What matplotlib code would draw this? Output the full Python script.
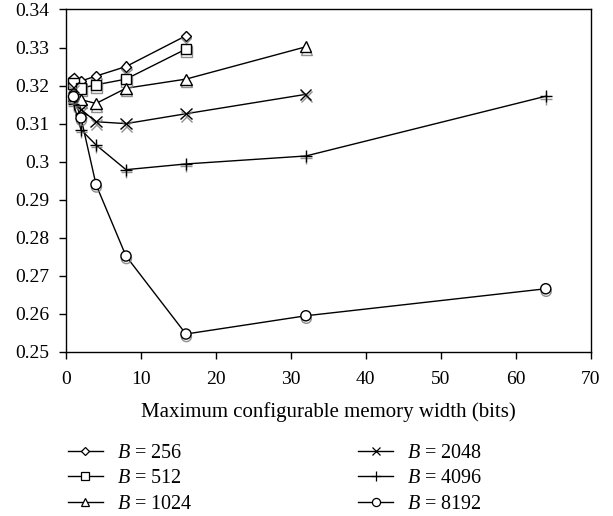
"""
Average cost vs. maximum configurable memory width for several block sizes B.
"""

import matplotlib
matplotlib.use('Agg')
import matplotlib.pyplot as plt
import matplotlib.patheffects as pe
from matplotlib.lines import Line2D
from matplotlib.ticker import FuncFormatter, MultipleLocator

# data
widths = [1, 2, 4, 8, 16, 32, 64]

b256 = [0.3220, 0.3212, 0.3225, 0.3250, 0.3331]
b512 = [0.3205, 0.3193, 0.3202, 0.3217, 0.3296]
b1024 = [0.3175, 0.3163, 0.3153, 0.3193, 0.3217, 0.3302]
b2048 = [0.3194, 0.3137, 0.3105, 0.3100, 0.3126, 0.3177]
b4096 = [0.3152, 0.3084, 0.3044, 0.2979, 0.2994, 0.3015, 0.3172]
b8192 = [0.3171, 0.3115, 0.2940, 0.2752, 0.2547, 0.2595, 0.2666]

labels = ['256', '512', '1024', '2048', '4096', '8192']
series = [b256, b512, b1024, b2048, b4096, b8192]
markers = ['D', 's', '^', 'x', '+', 'o']
sizes = [5.2, 7.6, 8, 8, 8.5, 7.3]

plt.rcParams['font.family'] = 'Liberation Serif'
plt.rcParams['mathtext.fontset'] = 'custom'
plt.rcParams['mathtext.it'] = 'Liberation Serif:italic'
plt.rcParams['mathtext.rm'] = 'Liberation Serif'

fig = plt.figure(figsize=(6.13, 5.16), dpi=100)
ax = fig.add_axes([0.1077, 0.318, 0.856, 0.6636])

shadow = [pe.SimpleLineShadow(offset=(0.3, -1.8), shadow_color='0.45', alpha=0.8),
          pe.Normal()]

handles = []
for vals, mk, ms, lab in zip(series, markers, sizes, labels):
    xs = widths[:len(vals)]
    ax.plot(xs, vals, color='black', linewidth=1.0, zorder=2)
    ax.plot(xs, vals, linestyle='none', marker=mk, markersize=ms,
            markerfacecolor='white', markeredgecolor='black',
            markeredgewidth=1.0, path_effects=shadow, zorder=3)
    handles.append(Line2D([], [], color='black', linewidth=1.0, marker=mk,
                          markersize=ms * 0.8, markerfacecolor='white',
                          markeredgecolor='black', markeredgewidth=0.9,
                          label=f'$B$ = {lab}'))

ax.set_xlim(0, 70)
ax.set_ylim(0.25, 0.34)
ax.xaxis.set_major_locator(MultipleLocator(10))
ax.yaxis.set_major_locator(MultipleLocator(0.01))
ax.yaxis.set_major_formatter(FuncFormatter(lambda v, p: f'{v:.2f}'.rstrip('0')))
ax.tick_params(direction='out', length=5, width=1, labelsize=14,
               top=False, right=False)
ax.tick_params(axis='x', pad=8.8)
ax.tick_params(axis='y', pad=7)
for sp in ax.spines.values():
    sp.set_linewidth(1.0)

ax.set_xlabel('Maximum configurable memory width (bits)', fontsize=15, labelpad=10)

fig.legend(handles=handles, ncol=2, loc='upper left',
           bbox_to_anchor=(0.1114, 0.140), frameon=False, fontsize=14.5,
           handlelength=1.7, handletextpad=0.7, columnspacing=8.25,
           labelspacing=0.32, borderaxespad=0, borderpad=0)

fig.savefig('out.png', dpi=100)
